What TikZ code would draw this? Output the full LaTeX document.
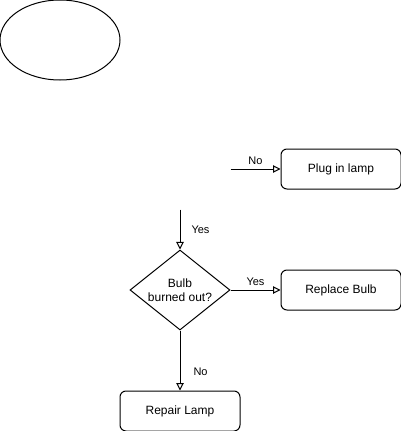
\documentclass[tikz,border=0pt]{standalone}
\usepackage{fontspec}
\setmainfont{Liberation Sans}
\usetikzlibrary{shapes.geometric, arrows.meta, positioning}

\begin{document}
\begin{tikzpicture}[
    x=1pt, y=-1pt,
    node distance=50pt and 50pt,
    proc/.style={rectangle, rounded corners=6pt, draw=black, minimum width=120pt,
        minimum height=40pt, align=center, font=\fontsize{12}{14}\selectfont,
        line width=1pt, inner sep=2pt},
    deci/.style={diamond, draw=black, minimum width=100pt, minimum height=80pt,
        inner sep=0pt, line width=1pt},
    term/.style={ellipse, draw=black, minimum width=120pt, minimum height=80pt,
        inner sep=0pt, line width=1pt},
    arr/.style={-{Triangle[open, length=7.5pt, width=7.5pt]}, line width=1pt},
    lbl/.style={font=\fontsize{11}{13}\selectfont, inner sep=1pt}
]
    \useasboundingbox (0,0) rectangle (401,431);

    % start shape
    \node[term] (begin) at (60,40) {};

    % decision + outcomes
    \node[deci, label={[align=center, font=\fontsize{12}{14}\selectfont]center:Bulb\\burned out?}] (burned) at (180,290) {};
    \node[proc, right=of burned] (replace) {Replace Bulb};
    \node[proc, below=60pt of burned] (repair) {Repair Lamp};
    \node[proc, above=80pt of replace] (plug) {Plug in lamp};

    % loose ends
    \coordinate[left=50pt of plug] (nofrom);
    \coordinate[above=40pt of burned] (yesfrom);

    % arrows
    \draw[arr] (nofrom) -- node[above=3pt, lbl] {No} (plug);
    \draw[arr] (yesfrom) -- node[right=10pt, lbl] {Yes} (burned);
    \draw[arr] (burned) -- node[above=3pt, lbl] {Yes} (replace);
    \draw[arr] (burned) -- node[right=12pt, lbl, pos=0.68] {No} (repair);
\end{tikzpicture}
\end{document}
